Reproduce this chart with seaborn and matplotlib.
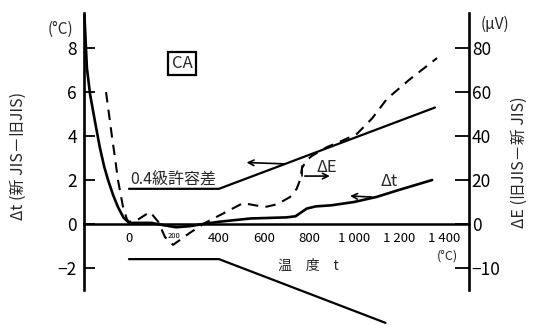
import matplotlib
matplotlib.use("Agg")
import matplotlib.pyplot as plt
import seaborn as sns
import pandas as pd

# Δt (new JIS − old JIS), °C, versus temperature
dt_temp = [-198, -187, -173, -150, -130, -110, -93, -70, -49, -25, 0, 100, 150, 210, 270,
           330, 400, 540, 700, 740, 790, 830, 900, 1000, 1100, 1200, 1347]
dt_val = [9.5, 7.1, 5.9, 4.6, 3.5, 2.6, 2.0, 1.3, 0.77, 0.3, 0.05, 0.05, -0.05, -0.15, -0.1,
          0.0, 0.1, 0.25, 0.3, 0.35, 0.7, 0.8, 0.85, 1.0, 1.23, 1.55, 2.0]

# ΔE (old JIS − new JIS), µV, versus temperature
de_temp = [-102, -85, -76, -62, -49, -27, -9, 0, 40, 93, 130, 160, 196, 230, 271, 338, 404,
           460, 507, 560, 604, 660, 716, 745, 760, 769, 790, 813, 880, 950, 1013, 1080,
           1147, 1250, 1369]
de_val = [60, 47, 40, 30, 20, 8, 2, 1, 2, 5.5, 1, -6, -9.5, -7, -4, 0.5, 4,
          7, 9.5, 8.5, 7.7, 9, 12.3, 16, 20, 25.5, 29, 31, 35, 38, 41, 48,
          57, 66, 75.5]

# class 0.4 tolerance band, °C
tol_up_temp = [0, 400, 1360]
tol_up_val = [1.6, 1.6, 5.3]
tol_lo_temp = [0, 400, 1140]
tol_lo_val = [-1.6, -1.6, -4.5]

x_ticks = [0, 200, 400, 600, 800, 1000, 1200, 1400]
x_labels = ["0", "200", "400", "600", "800", "1 000", "1 200", "1 400"]
left_ticks = [-2, 0, 2, 4, 6, 8]
left_labels = ["−2", "0", "2", "4", "6", "8"]
right_ticks = [-20, 0, 20, 40, 60, 80]
right_labels = ["−10", "0", "20", "40", "60", "80"]

sns.set_style("white")
plt.rcParams["font.family"] = ["Noto Sans CJK JP", "DejaVu Sans"]
plt.rcParams["axes.unicode_minus"] = False

fig = plt.figure(figsize=(5.37, 3.25), dpi=100)
ax = fig.add_axes([0.1564, 0.108, 0.717, 0.852])
ax2 = ax.twinx()

df_dt = pd.DataFrame({"t": dt_temp, "v": dt_val})
df_de = pd.DataFrame({"t": de_temp, "v": de_val})
df_up = pd.DataFrame({"t": tol_up_temp, "v": tol_up_val})
df_lo = pd.DataFrame({"t": tol_lo_temp, "v": tol_lo_val})

sns.lineplot(data=df_dt, x="t", y="v", ax=ax, sort=False, estimator=None,
             color="black", lw=1.9)
sns.lineplot(data=df_up, x="t", y="v", ax=ax, sort=False, estimator=None,
             color="black", lw=1.6)
lo = sns.lineplot(data=df_lo, x="t", y="v", ax=ax, sort=False, estimator=None,
                  color="black", lw=1.6)
for ln in ax.lines:
    ln.set_clip_on(False)
sns.lineplot(data=df_de, x="t", y="v", ax=ax2, sort=False, estimator=None,
             color="black", lw=1.5, dashes=False)
ax2.lines[0].set_linestyle((0, (5, 3.5)))

ax.set_xlim(-200, 1511)
ax.set_ylim(-3.0, 9.6)
ax2.set_ylim(-30, 96)

# axes frame: left and right spines, horizontal axis through zero
for s in ["top", "right"]:
    ax.spines[s].set_visible(False)
for s in ["top", "left", "bottom"]:
    ax2.spines[s].set_visible(False)
ax.spines["bottom"].set_position(("data", 0))
ax.spines["bottom"].set_linewidth(1.8)
ax.spines["left"].set_linewidth(1.9)
ax2.spines["right"].set_linewidth(1.9)
for s in ax.spines.values():
    s.set_color("black")
ax2.spines["right"].set_color("black")

ax.set_xticks(x_ticks)
ax.set_xticklabels(x_labels, fontsize=9.5)
ax.get_xticklabels()[1].set_fontsize(5.5)
ax.tick_params(axis="x", direction="in", length=8, width=1.3, pad=6, colors="black")
ax.set_yticks(left_ticks)
ax.set_yticklabels(left_labels, fontsize=12.5)
ax.tick_params(axis="y", direction="in", length=8, width=1.3, pad=5, colors="black")
ax2.set_yticks(right_ticks)
ax2.set_yticklabels(right_labels, fontsize=12.5)
ax2.tick_params(axis="y", direction="in", length=10, width=1.3, pad=2, colors="black")
ax.set_xlabel("")
ax.set_ylabel("")
ax2.set_ylabel("")

# axis titles and units
fig.text(0.034, 0.52, "Δt (新 JIS－旧JIS)", rotation=90, ha="center", va="center",
         fontsize=11.5)
fig.text(0.968, 0.50, "ΔE (旧JIS－新 JIS)", rotation=90, ha="center", va="center",
         fontsize=11.5)
fig.text(0.112, 0.91, "(°C)", ha="center", va="center", fontsize=11)
fig.text(0.922, 0.926, "(μV)", ha="center", va="center", fontsize=11)
fig.text(0.834, 0.212, "(°C)", ha="center", va="center", fontsize=9)
fig.text(0.575, 0.182, "温　度　t", ha="center", va="center", fontsize=10)

# annotations inside the plot
ax.text(235, 7.3, "CA", ha="center", va="center", fontsize=12,
        bbox=dict(boxstyle="square,pad=0.2", fc="white", ec="black", lw=1.6))
ax.text(5, 2.05, "0.4級許容差", ha="left", va="center", fontsize=11.5)
ax.annotate("", xy=(510, 2.8), xytext=(705, 2.73),
            arrowprops=dict(arrowstyle="->", color="black", lw=1.2))
ax.text(880, 2.55, "ΔE", ha="center", va="center", fontsize=12)
ax.plot([769, 769], [2.62, 2.18], color="black", lw=1.2)
ax.annotate("", xy=(905, 2.18), xytext=(769, 2.18),
            arrowprops=dict(arrowstyle="->", color="black", lw=1.2))
ax.text(1155, 1.95, "Δt", ha="center", va="center", fontsize=12)
ax.annotate("", xy=(970, 1.28), xytext=(1090, 1.22),
            arrowprops=dict(arrowstyle="->", color="black", lw=1.2))

fig.savefig("out.png", dpi=100)
